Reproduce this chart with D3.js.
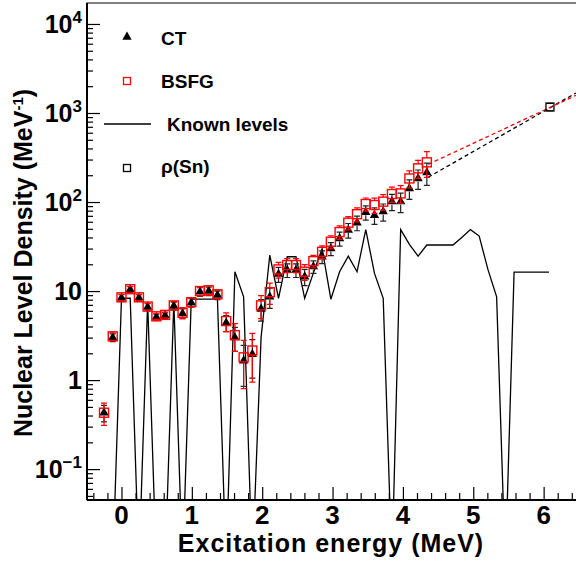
<!DOCTYPE html>
<html>
<head>
<meta charset="utf-8">
<script src="https://cdn.jsdelivr.net/npm/d3@7"></script>
<style>
body { margin: 0; background: #fff; }
text { font-family: "Liberation Sans", Arial, Helvetica, sans-serif; font-weight: bold; fill: #000; }
</style>
</head>
<body>
<div id="chart_wrapper"></div>
<script>
// values
var energies = [-0.248, -0.124, 0, 0.124, 0.248, 0.372, 0.496, 0.62, 0.744, 0.868,
  0.992, 1.116, 1.24, 1.364, 1.488, 1.612, 1.736, 1.86, 1.984, 2.108,
  2.232, 2.356, 2.48, 2.604, 2.728, 2.852, 2.976, 3.1, 3.224, 3.348,
  3.472, 3.596, 3.72, 3.844, 3.968, 4.092, 4.216, 4.34];
var ctValues = [0.43, 3.0, 8.4, 10.4, 8.4, 6.6, 5.1, 5.3, 6.8, 5.6,
  7.4, 9.8, 10.0, 9.0, 4.4, 3.0, 1.65, 1.95, 6.3, 8.6,
  15.5, 17.2, 17.2, 14.5, 18.8, 24.3, 30, 39, 48.4, 58.6,
  76.6, 71, 78, 101, 101, 142, 184, 214];
var ctErrors = [0.09, 0.3, 0.7, 0.8, 0.7, 0.6, 0.4, 0.4, 0.7, 0.7,
  0.8, 1.1, 1.1, 1.0, 0.9, 0.9, 0.8, 0.9, 1.7, 2.2,
  3.0, 3.0, 3.0, 3.0, 3.0, 4.0, 5.0, 7.0, 9.0, 11,
  14, 15, 17, 21, 25, 35, 45, 60];
var bsfgValues = [0.43, 3.1, 8.5, 10.5, 8.5, 6.7, 5.2, 5.4, 6.9, 5.7,
  7.5, 10.0, 10.2, 9.2, 4.6, 3.2, 1.8, 2.15, 6.9, 9.7,
  17.5, 19.6, 19.6, 16.5, 21.7, 27.6, 35.8, 46, 58.6, 73,
  95, 92.5, 101, 123, 125, 184, 239, 279];
var bsfgErrors = [0.12, 0.3, 0.7, 0.8, 0.7, 0.6, 0.4, 0.4, 0.7, 0.8,
  0.8, 1.2, 1.2, 1.0, 1.1, 1.1, 1.0, 1.2, 2.0, 2.6,
  3.5, 3.5, 3.5, 3.3, 3.5, 4.5, 6.0, 8.0, 10, 13,
  16, 18, 20, 24, 28, 40, 55, 90];

var knownEnergies = [-0.248, -0.124, 0, 0.124, 0.248, 0.372, 0.496, 0.62, 0.744, 0.868,
  0.992, 1.116, 1.24, 1.364, 1.488, 1.612, 1.736, 1.86, 1.984, 2.108,
  2.232, 2.356, 2.48, 2.604, 2.728, 2.852, 2.976, 3.1, 3.224, 3.348,
  3.472, 3.596, 3.72, 3.844, 3.968, 4.092, 4.216, 4.34, 4.464, 4.588,
  4.712, 4.836, 4.96, 5.084, 5.208, 5.332, 5.456, 5.58, 5.704, 5.828,
  5.952, 6.076];
var knownValues = [0, 0, 8.3, 8.3, 0, 7.5, 0, 0, 7.6, 0,
  8.1, 8.1, 8.1, 8.1, 0, 16.5, 8.6, 0, 3, 25.4,
  8.3, 24.3, 24.3, 8.3, 16, 30, 8.1, 16.5, 24.7, 16.5,
  49, 15.8, 8.3, 0, 49, 33.5, 24.7, 32.9, 32.9, 32.9,
  32.9, 40, 49, 41.5, 17.5, 8.6, 0, 16.3, 16.3, 16.3,
  16.3, 16.3];

var snEnergy = [6.09];
var snValue = [1168];
var snError = [110];

var ctExtrapEnergies = [4.36, 6.46];
var ctExtrapValues = [190, 1680];
var bsfgExtrapEnergies = [4.36, 6.46];
var bsfgExtrapValues = [265, 1580];

var xTickValues = [0, 1, 2, 3, 4, 5, 6];
var xTickLabels = ["0", "1", "2", "3", "4", "5", "6"];
var yTickValues = [0.1, 1, 10, 100, 1000, 10000];
var yTickBases = ["10", "1", "10", "10", "10", "10"];
var yTickExps = ["\u22121", "", "", "2", "3", "4"];

var wrapperWidth = 576,
    wrapperHeight = 565;

var margin = {
    left: 87,
    right: 0,
    top: 3,
    bottom: 65
};

var width = wrapperWidth - margin.left - margin.right;
var height = wrapperHeight - margin.top - margin.bottom;
var zeroFloor = 0.008; // empty bins of the known levels are drawn below the frame

var root = d3.select("#chart_wrapper").append("svg").attr("width", wrapperWidth).attr("height", wrapperHeight);
var svg = root.append("g").attr("transform", "translate(" + margin.left + "," + margin.top + ")");

var x = d3.scaleLinear().domain([-0.49, 6.46]).range([0, width]);
var y = d3.scaleLog().domain([0.045, 17200]).range([height, 0]);

svg.append("clipPath").attr("id", "plotclip")
  .append("rect").attr("x", 0).attr("y", 0).attr("width", width).attr("height", height);

var plot = svg.append("g").attr("clip-path", "url(#plotclip)");

// known levels
var knownLine = d3.line()
  .x(function(d) { return x(d[0]); })
  .y(function(d) { return y(d[1] > 0 ? d[1] : zeroFloor); });

plot.append("path")
  .datum(knownEnergies.map(function(e, i) { return [e, knownValues[i]]; }))
  .attr("d", knownLine)
  .attr("fill", "none")
  .attr("stroke", "#000")
  .attr("stroke-width", 1.3);

// extrapolations towards rho(Sn)
var extrapLine = d3.line()
  .x(function(d) { return x(d[0]); })
  .y(function(d) { return y(d[1]); });

plot.append("path")
  .datum(ctExtrapEnergies.map(function(e, i) { return [e, ctExtrapValues[i]]; }))
  .attr("d", extrapLine)
  .attr("fill", "none").attr("stroke", "#000").attr("stroke-width", 1.3)
  .attr("stroke-dasharray", "4,3");

plot.append("path")
  .datum(bsfgExtrapEnergies.map(function(e, i) { return [e, bsfgExtrapValues[i]]; }))
  .attr("d", extrapLine)
  .attr("fill", "none").attr("stroke", "#f00").attr("stroke-width", 1.3)
  .attr("stroke-dasharray", "4,3");

function errorPath(e, v, err, gap) {
  var px = x(e), py = y(v);
  var top = y(v + err);
  var bot = y(Math.max(v - err, 0.01));
  var p = "";
  if (py - gap > top) p += "M" + px + "," + (py - gap) + "V" + top;
  if (py + gap < bot) p += "M" + px + "," + (py + gap) + "V" + bot;
  p += "M" + (px - 3) + "," + top + "H" + (px + 3);
  p += "M" + (px - 3) + "," + bot + "H" + (px + 3);
  return p;
}

var ctData = energies.map(function(e, i) { return {e: e, v: ctValues[i], err: ctErrors[i]}; });
var bsfgData = energies.map(function(e, i) { return {e: e, v: bsfgValues[i], err: bsfgErrors[i]}; });

// CT
plot.append("g").selectAll("path")
  .data(ctData)
  .enter().append("path")
    .attr("d", function(d) { return errorPath(d.e, d.v, d.err, 3); })
    .attr("fill", "none").attr("stroke", "#222").attr("stroke-width", 1.2);

var triangle = d3.symbol().type(d3.symbolTriangle).size(38);
plot.append("g").selectAll("path")
  .data(ctData)
  .enter().append("path")
    .attr("d", triangle)
    .attr("transform", function(d) { return "translate(" + x(d.e) + "," + y(d.v) + ")"; })
    .attr("fill", "#000");

// BSFG
plot.append("g").selectAll("path")
  .data(bsfgData)
  .enter().append("path")
    .attr("d", function(d) { return errorPath(d.e, d.v, d.err, 4.5); })
    .attr("fill", "none").attr("stroke", "#f00").attr("stroke-width", 1.2);

plot.append("g").selectAll("rect")
  .data(bsfgData)
  .enter().append("rect")
    .attr("x", function(d) { return x(d.e) - 4.5; })
    .attr("y", function(d) { return y(d.v) - 4.5; })
    .attr("width", 9).attr("height", 9)
    .attr("fill", "none").attr("stroke", "#f00").attr("stroke-width", 1.4);

// rho(Sn)
var snData = snEnergy.map(function(e, i) { return {e: e, v: snValue[i], err: snError[i]}; });
plot.append("g").selectAll("path")
  .data(snData)
  .enter().append("path")
    .attr("d", function(d) { return errorPath(d.e, d.v, d.err, 4); })
    .attr("fill", "none").attr("stroke", "#000").attr("stroke-width", 1);
plot.append("g").selectAll("rect")
  .data(snData)
  .enter().append("rect")
    .attr("x", function(d) { return x(d.e) - 4; })
    .attr("y", function(d) { return y(d.v) - 4; })
    .attr("width", 8).attr("height", 8)
    .attr("fill", "none").attr("stroke", "#000").attr("stroke-width", 1.3);

// frame and axes
svg.append("rect").attr("x", 0).attr("y", 0).attr("width", width + 10).attr("height", height)
  .attr("fill", "none").attr("stroke", "#000").attr("stroke-width", 1);
svg.append("line").attr("x1", 0).attr("x2", 0).attr("y1", 0).attr("y2", height)
  .attr("stroke", "#000").attr("stroke-width", 2);
svg.append("line").attr("x1", 0).attr("x2", width).attr("y1", height).attr("y2", height)
  .attr("stroke", "#000").attr("stroke-width", 2);

var xMinor = d3.range(-4, 65, 2).map(function(v) { return v / 10; })
  .filter(function(v) { return Math.abs(v - Math.round(v)) > 0.01; });

svg.append("g").attr("class", "axis")
  .attr("transform", "translate(0," + height + ")")
  .call(d3.axisTop(x).tickValues(xTickValues).tickSize(13).tickFormat(""));
svg.append("g").attr("class", "axis")
  .attr("transform", "translate(0," + height + ")")
  .call(d3.axisTop(x).tickValues(xMinor).tickSize(7).tickFormat(""));

var yMinor = [];
[0.01, 0.1, 1, 10, 100, 1000, 10000].forEach(function(dec) {
  for (var m = 2; m <= 9; m++) {
    var v = dec * m;
    if (v > y.domain()[0] && v < y.domain()[1]) yMinor.push(v);
  }
});

svg.append("g").attr("class", "axis")
  .call(d3.axisRight(y).tickValues(yTickValues).tickSize(13).tickFormat(""));
svg.append("g").attr("class", "axis")
  .call(d3.axisRight(y).tickValues(yMinor).tickSize(6).tickFormat(""));

svg.selectAll(".axis .domain").remove();
svg.selectAll(".axis line").attr("stroke", "#000").attr("stroke-width", 1.2);

// tick labels
svg.append("g").selectAll("text")
  .data(xTickValues)
  .enter().append("text")
    .attr("x", function(d) { return x(d); })
    .attr("y", height + 24)
    .attr("text-anchor", "middle")
    .style("font-size", "26px")
    .text(function(d, i) { return xTickLabels[i]; });

var yLabels = svg.append("g").selectAll("text")
  .data(yTickValues)
  .enter().append("text")
    .attr("x", -5)
    .attr("y", function(d) { return y(d) + 9; })
    .attr("text-anchor", "end")
    .style("font-size", "25px");
yLabels.append("tspan").text(function(d, i) { return yTickBases[i]; });
yLabels.append("tspan")
  .attr("dy", -10)
  .style("font-size", "17px")
  .text(function(d, i) { return yTickExps[i]; });

// axis titles
root.append("text")
  .attr("x", 331).attr("y", 552)
  .attr("text-anchor", "middle")
  .style("font-size", "25px")
  .style("letter-spacing", "1px")
  .text("Excitation energy (MeV)");

var yTitle = root.append("text")
  .attr("transform", "translate(32,263) rotate(-90)")
  .attr("text-anchor", "middle")
  .style("font-size", "25px");
yTitle.append("tspan").text("Nuclear Level Density (MeV");
yTitle.append("tspan").attr("dy", -9).style("font-size", "15px").text("-1");
yTitle.append("tspan").attr("dy", 9).text(")");

// legend
var legend = root.append("g");
legend.append("path").attr("d", triangle).attr("transform", "translate(127,37)").attr("fill", "#000");
legend.append("text").attr("x", 161).attr("y", 45).style("font-size", "19px").text("CT");
legend.append("rect").attr("x", 123.5).attr("y", 77.5).attr("width", 7).attr("height", 7)
  .attr("fill", "none").attr("stroke", "#f00").attr("stroke-width", 1.3);
legend.append("text").attr("x", 161).attr("y", 88).style("font-size", "19px").text("BSFG");
legend.append("line").attr("x1", 104).attr("x2", 151).attr("y1", 124).attr("y2", 124)
  .attr("stroke", "#000").attr("stroke-width", 1.3);
legend.append("text").attr("x", 167).attr("y", 131).style("font-size", "19px").text("Known levels");
legend.append("rect").attr("x", 123.5).attr("y", 164.5).attr("width", 7).attr("height", 7)
  .attr("fill", "none").attr("stroke", "#000").attr("stroke-width", 1.3);
legend.append("text").attr("x", 161).attr("y", 173).style("font-size", "19px").text("\u03c1(Sn)");
</script>
</body>
</html>
